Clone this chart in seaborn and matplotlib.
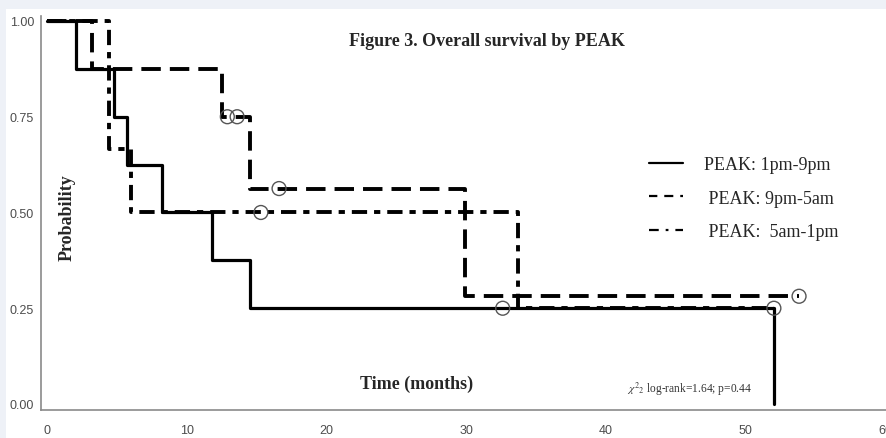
import matplotlib
matplotlib.use("Agg")
import matplotlib.pyplot as plt
import seaborn as sns
import pandas as pd
from matplotlib.lines import Line2D
from matplotlib.patches import Rectangle

# ---- data ----
groups = ["PEAK: 1pm-9pm", "PEAK: 9pm-5am", "PEAK: 5am-1pm"]
legend_labels = ["PEAK: 1pm-9pm", " PEAK: 9pm-5am", " PEAK:  5am-1pm"]

t_1pm = [0, 2.1, 4.8, 5.7, 8.2, 11.8, 14.5, 52.0]
s_1pm = [1.0, 0.875, 0.75, 0.625, 0.5, 0.375, 0.25, 0.0]
c_t_1pm = [32.6]
c_s_1pm = [0.25]

t_9pm = [0, 3.2, 12.5, 14.5, 29.9, 53.8]
s_9pm = [1.0, 0.875, 0.75, 0.5625, 0.28125, 0.28125]
c_t_9pm = [12.9, 13.6, 16.6, 53.8]
c_s_9pm = [0.75, 0.75, 0.5625, 0.28125]

t_5am = [0, 4.4, 6.0, 33.7, 52.0]
s_5am = [1.0, 0.6667, 0.5, 0.25, 0.25]
c_t_5am = [15.3, 52.0]
c_s_5am = [0.5, 0.25]

x_ticks = [0, 10, 20, 30, 40, 50, 60]
y_ticks = [0.0, 0.25, 0.5, 0.75, 1.0]
y_ticklabels = ["0.00", "0.25", "0.50", "0.75", "1.00"]

sns.set_style("white")
plt.rcParams["lines.scale_dashes"] = False
plt.rcParams["mathtext.fontset"] = "stix"

W, H = 886, 439
fig = plt.figure(figsize=(W / 100, H / 100), dpi=100)
fig.patch.set_facecolor("#eef1f7")
fig.patches.append(Rectangle((6 / W, 0), 1 - 6 / W, (H - 10) / H,
                             transform=fig.transFigure, facecolor="white",
                             edgecolor="none", zorder=-10))

ax = fig.add_axes([41 / W, 28 / H, 845 / W, 394 / H])
ax.set_facecolor("none")
ax.set_zorder(1)

styles = {
    groups[0]: dict(linestyle="-", linewidth=2.3),
    groups[1]: dict(linestyle=(0, (14, 6.5)), linewidth=2.8),
    groups[2]: dict(linestyle=(0, (11, 5, 4.5, 5)), linewidth=2.8),
}
curves = [(t_1pm, s_1pm, c_t_1pm, c_s_1pm),
          (t_9pm, s_9pm, c_t_9pm, c_s_9pm),
          (t_5am, s_5am, c_t_5am, c_s_5am)]

for g, (t, s, ct, cs) in zip(groups, curves):
    df = pd.DataFrame({"time": t, "surv": s})
    sns.lineplot(data=df, x="time", y="surv", ax=ax, estimator=None, sort=False,
                 drawstyle="steps-post", color="black", **styles[g])
for g, (t, s, ct, cs) in zip(groups, curves):
    cdf = pd.DataFrame({"time": ct, "surv": cs})
    sns.scatterplot(data=cdf, x="time", y="surv", ax=ax, marker="o", s=100,
                    facecolor="none", edgecolor="#555555", linewidth=1.0, zorder=5)

ax.set_xlim(-0.43, 60.02)
ax.set_ylim(-0.0157, 1.013)
ax.set_xticks(x_ticks)
ax.set_yticks(y_ticks)
ax.set_yticklabels(y_ticklabels)
ax.set_xlabel("")
ax.set_ylabel("")
for side in ["top", "right"]:
    ax.spines[side].set_visible(False)
for side in ["left", "bottom"]:
    ax.spines[side].set_color("#8a8a8a")
    ax.spines[side].set_linewidth(1.2)
ax.tick_params(axis="x", length=4, width=1, color="#8a8a8a", pad=6,
               labelsize=9, labelcolor="#4d4d4d")
ax.tick_params(axis="y", length=3, width=1, color="#8a8a8a", pad=2,
               labelsize=9, labelcolor="#4d4d4d")
for lab in ax.get_xticklabels() + ax.get_yticklabels():
    lab.set_family("Liberation Sans")

serif = "Liberation Serif"
ax.text(0.528, 0.937, "Figure 3. Overall survival by PEAK", transform=ax.transAxes,
        ha="center", va="center", family=serif, weight="bold", fontsize=13)
ax.text(0.444, 0.0685, "Time (months)", transform=ax.transAxes,
        ha="center", va="center", family=serif, weight="bold", fontsize=13)
ax.text(0.031, 0.492, "Probability", transform=ax.transAxes, rotation=90,
        ha="center", va="center", family=serif, weight="bold", fontsize=13)
ax.text(0.693, 0.055, r"$\chi^2{}_2$ log-rank=1.64; p=0.44", transform=ax.transAxes,
        ha="left", va="center", family=serif, fontsize=8.3, color="#333333")

handles = [
    Line2D([], [], color="black", linewidth=1.6, linestyle="-"),
    Line2D([], [], color="black", linewidth=1.6, linestyle=(0, (6, 5, 6.5, 5, 2, 3))),
    Line2D([], [], color="black", linewidth=1.6, linestyle=(0, (7, 5, 2, 5, 7, 4))),
]
ax.legend(handles, legend_labels, loc="upper left", bbox_to_anchor=(0.72, 0.644),
          frameon=False, borderpad=0, borderaxespad=0, handlelength=1.85,
          handletextpad=1.2, labelspacing=0.91,
          prop={"family": serif, "size": 13})

fig.savefig("out.png", dpi=100, facecolor=fig.get_facecolor())
